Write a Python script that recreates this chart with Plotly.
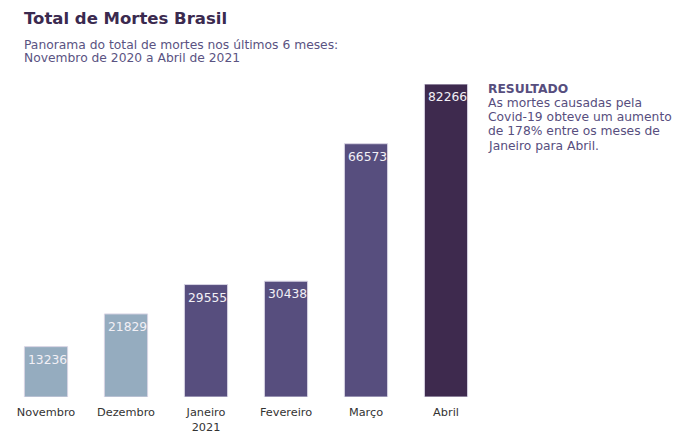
import plotly.graph_objects as go

meses = ["Novembro", "Dezembro", "Janeiro<br>2021", "Fevereiro", "Março", "Abril"]
mortes = [13236, 21829, 29555, 30438, 66573, 82266]
cores = ["#95acbf", "#95acbf", "#574e7e", "#574e7e", "#574e7e", "#3e2a4e"]

titulo = "Total de Mortes Brasil"
subtitulo = ["Panorama do total de mortes nos últimos 6 meses:",
             "Novembro de 2020 a Abril de 2021"]
resultado = ["<b>RESULTADO</b>", "As mortes causadas pela",
             "Covid-19 obteve um aumento", "de 178% entre os meses de",
             "Janeiro para Abril."]

# page body has an 8px default margin; compensate
OFF = 8
T = 84 - OFF

fig = go.Figure()
fig.add_trace(go.Bar(
    x=list(range(len(meses))), y=mortes,
    marker=dict(color=cores, line=dict(color="#d8d4e4", width=1)),
    width=0.54, hoverinfo="skip",
))

for i, v in enumerate(mortes):
    fig.add_annotation(x=i, y=v, xref="x", yref="y", text=str(v), showarrow=False,
                       yanchor="middle", xanchor="center", yshift=-13, xshift=1,
                       font=dict(color="#f2f0f6", size=12.3))

fig.update_layout(
    width=700, height=438,
    margin=dict(l=0, r=222, t=T, b=438 - 397 + OFF, autoexpand=False),
    plot_bgcolor="white", paper_bgcolor="white",
    font=dict(family="DejaVu Sans", color="#333333"),
    showlegend=False,
    xaxis=dict(range=[-0.475, 5.5], tickmode="array", tickvals=list(range(len(meses))),
               ticktext=meses, showgrid=False, zeroline=False, showline=False,
               automargin=False, ticks="", ticklabelstandoff=7,
               tickfont=dict(size=11.3, color="#333333")),
    yaxis=dict(range=[0, 82266], visible=False, showgrid=False, zeroline=False,
               automargin=False),
)

def ann(text, x, y, size, color):
    fig.add_annotation(xref="paper", yref="paper", x=0, y=1, text=text, showarrow=False,
                       xanchor="left", yanchor="middle", align="left",
                       xshift=x - 10, yshift=T - (y - 7.5),
                       font=dict(size=size, color=color))

ann("<b>" + titulo + "</b>", 24, 18, 16.5, "#3b2a4f")
for i, linha in enumerate(subtitulo):
    ann(linha, 24, 44 + 13 * i, 12.3, "#5a5382")
for i, linha in enumerate(resultado):
    ann(linha, 488, 88 + 14.3 * i, 12.3, "#574e7e")

fig.write_html("out.html")
